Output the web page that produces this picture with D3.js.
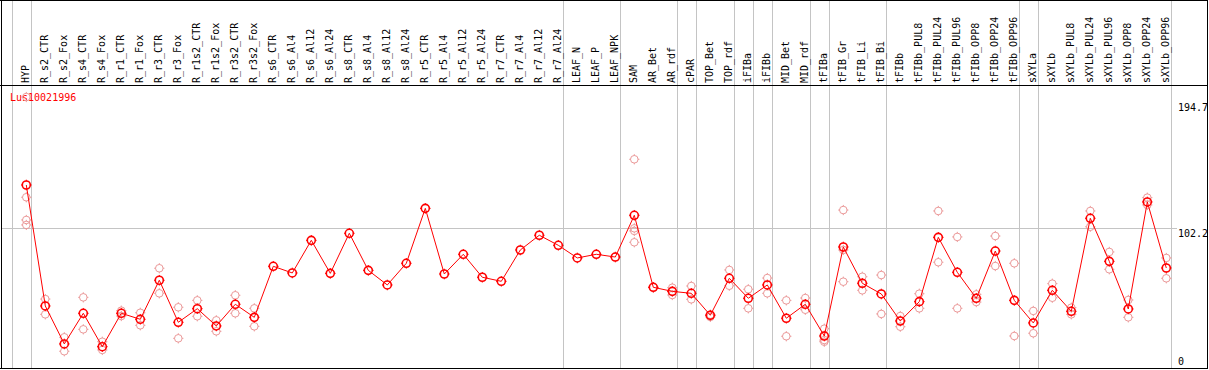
<!DOCTYPE html>
<html><head><meta charset="utf-8">
<script src="https://cdn.jsdelivr.net/npm/d3@7"></script>
<style>
html,body{margin:0;padding:0;background:#fff;}
svg{display:block;}
text{font-family:"DejaVu Sans Mono",monospace;font-size:10px;}
</style></head><body>
<script>
const categories = ["HYP","R_s2_CTR","R_s2_Fox","R_s4_CTR","R_s4_Fox","R_r1_CTR","R_r1_Fox","R_r3_CTR","R_r3_Fox","R_r1s2_CTR","R_r1s2_Fox","R_r3s2_CTR","R_r3s2_Fox","R_s6_CTR","R_s6_Al4","R_s6_Al12","R_s6_Al24","R_s8_CTR","R_s8_Al4","R_s8_Al12","R_s8_Al24","R_r5_CTR","R_r5_Al4","R_r5_Al12","R_r5_Al24","R_r7_CTR","R_r7_Al4","R_r7_Al12","R_r7_Al24","LEAF_N","LEAF_P","LEAF_NPK","SAM","AR_Bet","AR_rdf","cPAR","TOP_Bet","TOP_rdf","iFIBa","iFIBb","MID_Bet","MID_rdf","tFIBa","tFIB_Gr","tFIB_Li","tFIB_Bi","tFIBb","tFIBb_PUL8","tFIBb_PUL24","tFIBb_PUL96","tFIBb_OPP8","tFIBb_OPP24","tFIBb_OPP96","sXYLa","sXYLb","sXYLb_PUL8","sXYLb_PUL24","sXYLb_PUL96","sXYLb_OPP8","sXYLb_OPP24","sXYLb_OPP96"];

const meanValues = [135.4,42.7,13.6,37.1,11.5,37.1,32.5,62.4,30.2,40.6,27.4,44.0,34.0,73.1,68.0,93.0,67.7,98.4,70.0,58.8,75.4,117.5,67.2,82.3,64.7,61.6,85.6,96.9,89.2,79.5,82.3,80.2,112.2,57.0,53.9,52.4,35.6,63.9,48.6,58.8,33.3,44.0,19.7,87.9,60.1,51.9,31.2,46.0,95.3,68.5,48.6,84.8,47.0,29.7,54.7,38.6,109.9,76.9,40.4,122.4,71.8];

const replicateValues = [
 [202.8,126.0,108.6,104.8],[48.0,36.3],[18.7,8.0],[49.3,24.8],[15.3,9.0],[39.1,35.0],[37.5,27.9],[71.6,52.4],[41.7,17.9],[47.0,34.8],[31.7,23.3],[50.9,37.1],[40.9,27.1],
 [],[],[],[],[],[],[],[],[],[],[],[],[],[],[],[],[],[],[],
 [155.1,102.2,100.2,91.5],[57.0],[56.7,51.1],[58.0,47.8],[34.3,36.0],[70.3,58.2],[55.5,40.9],[64.1,52.4],[47.0,19.5],[48.8,39.8],[25.3,16.6,15.3],[116.2,85.6,61.3],[65.1,54.7],[66.4,36.6],
 [35.0,26.8],[52.1,40.9],[115.5,76.2],[95.6,40.9],[51.6,45.7],[96.3,73.3],[75.4,19.7],[38.9,21.8],[59.8,49.0],[41.4,36.3],[115.5,103.4],[84.1,70.8],[47.3,34.0],[125.7,120.1],[79.5,63.9]
];

const groupEnds = ["HYP","R_r7_Al24","LEAF_NPK","AR_rdf","cPAR","TOP_rdf","iFIBa","iFIBb","MID_rdf","tFIBa","tFIB_Bi","tFIBb_OPP96","sXYLa","sXYLb_OPP96"];
const yTicks = [0,102.2,194.7];
const gridValues = [102.2];
const geneLabel = "Lus10021996";

const W = 1209, H = 370;
const svg = d3.select("body").append("svg").attr("width",W).attr("height",H);

const x = d3.scalePoint().domain(categories).range([26.3,1166.3]).padding(0);
const step = x.step();
const y = d3.scaleLinear().domain([0,194.7]).range([361.7,107.6]);

// horizontal grid
svg.selectAll("line.grid").data(gridValues).enter().append("line")
  .attr("x1",1).attr("x2",1177).attr("y1",d=>Math.round(y(d))+0.5).attr("y2",d=>Math.round(y(d))+0.5)
  .attr("stroke","#c4c4c4").attr("stroke-width",1);

// vertical group separators
const sepX = [x(categories[0]) - step + 4.4].concat(groupEnds.map(c=>x(c)+4.4));
svg.selectAll("line.sep").data(sepX).enter().append("line")
  .attr("x1",d=>Math.round(d)+0.5).attr("x2",d=>Math.round(d)+0.5).attr("y1",0).attr("y2",369)
  .attr("stroke","#c4c4c4").attr("stroke-width",1);

// borders
svg.append("line").attr("x1",0).attr("x2",1208).attr("y1",0.5).attr("y2",0.5).attr("stroke","#000");
svg.append("line").attr("x1",0).attr("x2",1208).attr("y1",85.5).attr("y2",85.5).attr("stroke","#000");
svg.append("line").attr("x1",0).attr("x2",1208).attr("y1",368.5).attr("y2",368.5).attr("stroke","#000");
svg.append("line").attr("x1",1.5).attr("x2",1.5).attr("y1",0).attr("y2",369).attr("stroke","#000");
svg.append("line").attr("x1",1207.5).attr("x2",1207.5).attr("y1",0).attr("y2",369).attr("stroke","#000");

// category labels
svg.selectAll("text.cat").data(categories).enter().append("text")
  .attr("transform",d=>`translate(${x(d)+2.5},83) rotate(-90)`)
  .attr("text-anchor","start").attr("fill","#000").text(d=>d);

// gene label
svg.append("text").attr("x",10).attr("y",101).attr("fill","#ff0000").attr("font-size","10px").text(geneLabel);

// y axis
const axis = d3.axisRight(y).tickValues(yTicks).tickSize(0).tickPadding(0).tickFormat(d=>String(d));
const ag = svg.append("g").attr("transform","translate(1178,0)").call(axis);
ag.select(".domain").remove();
ag.selectAll("text").attr("font-family","DejaVu Sans Mono, monospace").attr("font-size","10px").attr("fill","#000")
  .attr("x",0).attr("dy",d=>d===102.2?"0.78em":"0.32em");

function marker(g, cx, cy, color, sw, r){
  g.append("circle").attr("cx",cx).attr("cy",cy).attr("r",r).attr("fill","none").attr("stroke",color).attr("stroke-width",sw);
  const t = r + 1.3;
  g.append("path").attr("d",`M${cx-t},${cy}H${cx-r+0.3}M${cx+r-0.3},${cy}H${cx+t}M${cx},${cy-t}V${cy-r+0.3}M${cx},${cy+r-0.3}V${cy+t}`)
    .attr("stroke",color).attr("stroke-width",1).attr("fill","none");
}

// replicates
const rg = svg.append("g");
replicateValues.forEach((reps,i)=>{
  reps.forEach(v=>marker(rg, x(categories[i]), y(v), "#eb9a9a", 1, 3.8));
});

// mean line
const line = d3.line().x((d,i)=>x(categories[i])).y(d=>y(d));
svg.append("path").datum(meanValues).attr("d",line).attr("fill","none").attr("stroke","#ff0000").attr("stroke-width",1);

const mg = svg.append("g");
meanValues.forEach((v,i)=>marker(mg, x(categories[i]), y(v), "#ff0000", 1.6, 4));
</script>
</body></html>
